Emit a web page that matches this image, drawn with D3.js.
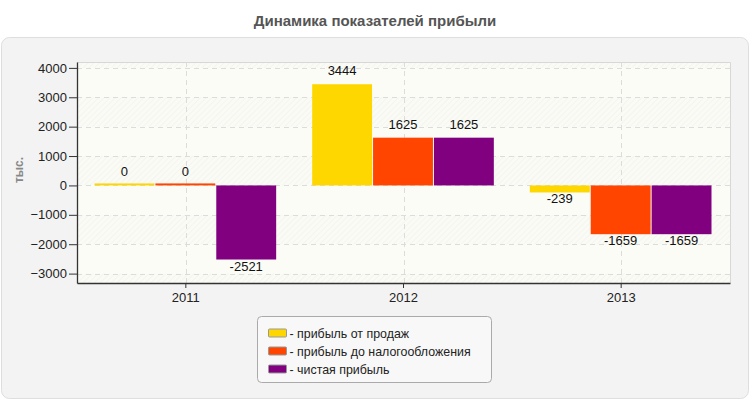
<!DOCTYPE html>
<html>
<head>
<meta charset="utf-8">
<script src="https://cdn.jsdelivr.net/npm/d3@7"></script>
<style>
  body { margin: 0; background: #fff; }
  svg { display: block; font-family: "Liberation Sans", Arial, sans-serif; }
</style>
</head>
<body>
<div id="chart"></div>
<script>
var years = ["2011", "2012", "2013"];
var seriesNames = ["прибыль от продаж", "прибыль до налогообложения", "чистая прибыль"];
var salesProfit = [0, 3444, -239];
var preTaxProfit = [0, 1625, -1659];
var netProfit = [-2521, 1625, -1659];
var seriesColors = ["#ffd700", "#ff4500", "#800080"];
var yTicks = [-3000, -2000, -1000, 0, 1000, 2000, 3000, 4000];

var series = [salesProfit, preTaxProfit, netProfit];
var data = [];
years.forEach(function (y, i) {
    series.forEach(function (s, j) {
        data.push({ year: y, name: seriesNames[j], value: s[i], color: seriesColors[j] });
    });
});

var W = 750, H = 400;
var margin = { top: 62, left: 77 },
    width = 730 - margin.left,
    height = 283 - margin.top;

var svg = d3.select("#chart").append("svg")
    .attr("width", W)
    .attr("height", H);

// hatch pattern for alternating bands
var defs = svg.append("defs");
var pat = defs.append("pattern")
    .attr("id", "hatch")
    .attr("width", 4).attr("height", 4)
    .attr("patternUnits", "userSpaceOnUse")
    .attr("patternTransform", "rotate(45)");
pat.append("rect").attr("width", 4).attr("height", 4).attr("fill", "#fbfbf6");
pat.append("line").attr("x1", 0).attr("y1", 0).attr("x2", 0).attr("y2", 4)
    .attr("stroke", "#ededeb").attr("stroke-width", 1);

// outer panel
svg.append("rect")
    .attr("x", 1.5).attr("y", 37.5)
    .attr("width", 747).attr("height", 361)
    .attr("rx", 8)
    .attr("fill", "#f3f3f3")
    .attr("stroke", "#dedede");

svg.append("text")
    .attr("x", W / 2).attr("y", 26)
    .attr("text-anchor", "middle")
    .style("font-size", "15px")
    .style("font-weight", "bold")
    .style("fill", "#555")
    .text("Динамика показателей прибыли");

var canvas = svg.append("g")
    .attr("transform", "translate(" + margin.left + "," + margin.top + ")");

var yScale = d3.scaleLinear()
    .domain([-3320, 4200])
    .range([height, 0]);

var xScale = d3.scaleBand()
    .domain(years)
    .range([0, width]);

var xInner = d3.scaleBand()
    .domain(seriesNames)
    .range([17.5, xScale.bandwidth() - 17.5]);

// plot background with alternating bands
canvas.append("rect")
    .attr("width", width).attr("height", height)
    .attr("fill", "#fcfcf6");

var bands = [4200].concat(yTicks.slice().reverse()).concat([-3320]);
for (var i = 0; i < bands.length - 1; i++) {
    if (i % 2 === 0) {
        canvas.append("rect")
            .attr("x", 0)
            .attr("y", yScale(bands[i]))
            .attr("width", width)
            .attr("height", yScale(bands[i + 1]) - yScale(bands[i]))
            .attr("fill", "url(#hatch)");
    }
}

// grid
canvas.append("g")
    .attr("class", "grid")
    .selectAll("line")
    .data(yTicks)
    .enter().append("line")
    .attr("x1", 0).attr("x2", width)
    .attr("y1", function (d) { return Math.round(yScale(d)) + 0.5; })
    .attr("y2", function (d) { return Math.round(yScale(d)) + 0.5; })
    .attr("stroke", "#dcdcdc")
    .attr("stroke-dasharray", "5,4");

canvas.append("g")
    .selectAll("line")
    .data(years)
    .enter().append("line")
    .attr("x1", function (d) { return Math.round(xScale(d) + xScale.bandwidth() / 2) + 0.5; })
    .attr("x2", function (d) { return Math.round(xScale(d) + xScale.bandwidth() / 2) + 0.5; })
    .attr("y1", 0).attr("y2", height)
    .attr("stroke", "#dcdcdc")
    .attr("stroke-dasharray", "5,4");

// plot border top/right
canvas.append("path")
    .attr("d", "M0,0.5H" + (width + 0.5) + "V" + height)
    .attr("fill", "none")
    .attr("stroke", "#d8d8d8");

// bars
var bar = canvas.selectAll(".bar")
    .data(data)
    .enter().append("g")
    .attr("class", "bar")
    .attr("transform", function (d) { return "translate(" + xScale(d.year) + ",0)"; });

bar.append("rect")
    .attr("x", function (d) { return xInner(d.name); })
    .attr("width", xInner.bandwidth() - 1)
    .attr("y", function (d) {
        if (d.value === 0) return yScale(0) - 2;
        return Math.min(yScale(d.value), yScale(0));
    })
    .attr("height", function (d) {
        if (d.value === 0) return 2;
        return Math.abs(yScale(d.value) - yScale(0));
    })
    .attr("fill", function (d) { return d.color; });

bar.append("text")
    .attr("x", function (d) { return xInner(d.name) + (xInner.bandwidth() - 1) / 2; })
    .attr("y", function (d) {
        return d.value < 0 ? yScale(d.value) + 11 : yScale(d.value) - 9;
    })
    .attr("text-anchor", "middle")
    .style("font-size", "13px")
    .style("fill", "#111")
    .text(function (d) { return d.value; });

// axes
var yAxis = canvas.append("g")
    .call(d3.axisLeft(yScale).tickValues(yTicks).tickFormat(d3.format("d"))
        .tickSize(8).tickPadding(2).tickSizeOuter(0));
var xAxis = canvas.append("g")
    .attr("transform", "translate(0," + height + ")")
    .call(d3.axisBottom(xScale).tickSize(5).tickPadding(5).tickSizeOuter(0));

[yAxis, xAxis].forEach(function (ax) {
    ax.select(".domain").attr("stroke", "#333").attr("stroke-width", 1.3);
    ax.selectAll(".tick line").attr("stroke", "#333");
    ax.selectAll(".tick text")
        .style("font-size", "13px")
        .style("fill", "#222")
        .style("font-family", "Liberation Sans, Arial, sans-serif");
});

svg.append("text")
    .attr("transform", "translate(23,170) rotate(-90)")
    .attr("text-anchor", "middle")
    .style("font-size", "12px")
    .style("font-weight", "bold")
    .style("fill", "#888")
    .text("тыс.");

// legend
var legend = svg.append("g")
    .attr("transform", "translate(257.5,316.5)");

legend.append("rect")
    .attr("width", 234).attr("height", 66)
    .attr("rx", 4)
    .attr("fill", "#f8f8f8")
    .attr("stroke", "#aaa");

var item = legend.selectAll(".item")
    .data(seriesNames)
    .enter().append("g")
    .attr("transform", function (d, i) { return "translate(11," + (12.5 + i * 18) + ")"; });

item.append("rect")
    .attr("width", 18).attr("height", 8)
    .attr("rx", 1)
    .attr("fill", function (d, i) { return seriesColors[i]; })
    .attr("stroke", "#999");

item.append("text")
    .attr("x", 21).attr("y", 9)
    .style("font-size", "12.4px")
    .style("fill", "#222")
    .text(function (d) { return "- " + d; });
</script>
</body>
</html>
